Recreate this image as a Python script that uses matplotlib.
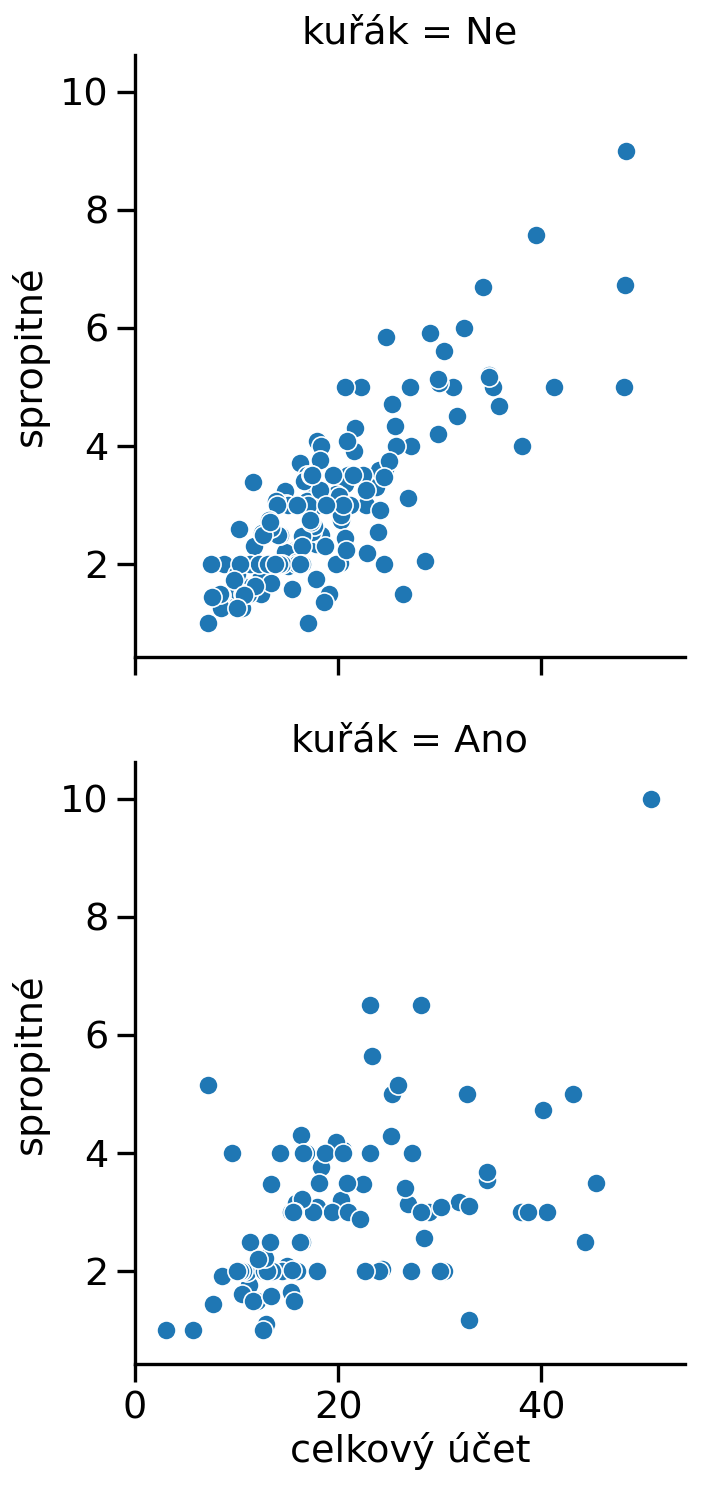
# Tips scatter, split by smoker (kuřák = Ne / Ano)
import matplotlib
matplotlib.use("Agg")
import matplotlib.pyplot as plt

# celkový účet / spropitné pro nekuřáky
bill_ne = [16.99, 10.34, 21.01, 23.68, 24.59, 25.29, 8.77, 26.88, 15.04, 14.78,
           10.27, 35.26, 15.42, 18.43, 14.83, 21.58, 10.33, 16.29, 16.97, 20.65,
           17.92, 20.29, 15.77, 39.42, 19.82, 17.81, 13.37, 12.69, 21.7, 19.65,
           9.55, 18.35, 15.06, 20.69, 17.78, 24.06, 16.31, 16.93, 18.69, 31.27,
           16.04, 17.46, 13.94, 9.68, 30.4, 18.29, 22.23, 32.4, 28.55, 18.04,
           12.54, 10.29, 34.81, 9.94, 25.56, 19.49, 26.41, 48.27, 17.59, 20.08,
           16.45, 20.23, 12.02, 17.07, 14.73, 10.51, 27.2, 22.76, 17.29, 16.66,
           10.07, 15.98, 34.83, 13.03, 18.28, 24.71, 21.16, 22.49, 22.75, 12.46,
           20.92, 18.24, 14.0, 7.25, 38.07, 23.95, 25.71, 17.31, 29.93, 10.65,
           12.43, 24.08, 11.69, 13.42, 14.26, 15.95, 12.48, 29.8, 8.52, 14.52,
           11.38, 22.82, 19.08, 20.27, 11.17, 12.26, 18.26, 8.51, 10.33, 14.15,
           13.16, 17.47, 34.3, 41.19, 27.05, 16.43, 8.35, 18.64, 11.87, 9.78,
           7.51, 14.07, 13.13, 17.26, 24.55, 19.77, 29.85, 48.17, 25.0, 13.39,
           16.49, 21.5, 12.66, 16.21, 13.81, 24.52, 20.76, 31.71, 20.69, 7.56,
           48.33, 15.98, 20.45, 13.28, 11.61, 10.77, 10.07, 35.83, 29.03, 17.82,
           18.78]
tip_ne = [1.01, 1.66, 3.5, 3.31, 3.61, 4.71, 2.0, 3.12, 1.96, 3.23,
          1.71, 5.0, 1.57, 3.0, 3.02, 3.92, 1.67, 3.71, 3.5, 3.35,
          4.08, 2.75, 2.23, 7.58, 3.18, 2.34, 2.0, 2.0, 4.3, 3.0,
          1.45, 2.5, 3.0, 2.45, 3.27, 3.6, 2.0, 3.07, 2.31, 5.0,
          2.24, 2.54, 3.06, 1.32, 5.6, 3.0, 5.0, 6.0, 2.05, 3.0,
          2.5, 2.6, 5.2, 1.56, 4.34, 3.51, 1.5, 6.73, 2.64, 3.15,
          2.47, 2.01, 1.97, 3.0, 2.2, 1.25, 4.0, 3.0, 2.71, 3.4,
          1.83, 2.03, 5.17, 2.0, 4.0, 5.85, 3.0, 3.5, 3.25, 1.5,
          4.08, 3.76, 3.0, 1.0, 4.0, 2.55, 4.0, 3.5, 5.07, 1.5,
          1.8, 2.92, 2.31, 1.68, 2.5, 2.0, 2.52, 4.2, 1.48, 2.0,
          2.0, 2.18, 1.5, 2.83, 1.5, 2.0, 3.25, 1.25, 2.0, 2.0,
          2.75, 3.5, 6.7, 5.0, 5.0, 2.3, 1.5, 1.36, 1.63, 1.73,
          2.0, 2.5, 2.0, 2.74, 2.0, 2.0, 5.14, 5.0, 3.75, 2.61,
          2.0, 3.5, 2.5, 2.0, 2.0, 3.48, 2.24, 4.5, 5.0, 1.44,
          9.0, 3.0, 3.0, 2.72, 3.39, 1.47, 1.25, 4.67, 5.92, 1.75,
          3.0]

# celkový účet / spropitné pro kuřáky
bill_ano = [38.01, 11.24, 20.29, 13.81, 11.02, 18.29, 3.07, 15.01, 26.86, 25.28,
            17.92, 19.44, 32.68, 28.97, 5.75, 16.32, 40.17, 27.28, 12.03, 21.01,
            11.35, 15.38, 44.3, 22.42, 15.36, 20.49, 25.21, 14.31, 16.0, 17.51,
            10.59, 10.63, 50.81, 15.81, 7.25, 31.85, 16.82, 32.9, 17.89, 14.48,
            9.6, 34.63, 34.65, 23.33, 45.35, 23.17, 40.55, 20.9, 30.46, 18.15,
            23.1, 15.69, 19.81, 28.44, 15.48, 16.58, 10.34, 43.11, 13.0, 13.51,
            18.71, 12.74, 13.0, 16.4, 20.53, 16.47, 26.59, 38.73, 24.27, 12.76,
            30.06, 25.89, 13.27, 28.17, 12.9, 28.15, 11.59, 7.74, 30.14, 12.16,
            13.42, 8.58, 13.42, 16.27, 10.09, 22.12, 24.01, 15.69, 15.53, 12.6,
            32.83, 27.18, 22.67]
tip_ano = [3.0, 1.76, 3.21, 2.0, 1.98, 3.76, 1.0, 2.09, 3.14, 5.0,
           3.08, 3.0, 5.0, 3.0, 1.0, 4.3, 4.73, 4.0, 1.5, 3.0,
           2.5, 3.0, 2.5, 3.48, 1.64, 4.06, 4.29, 4.0, 2.0, 3.0,
           1.61, 2.0, 10.0, 3.16, 5.15, 3.18, 4.0, 3.11, 2.0, 2.0,
           4.0, 3.55, 3.68, 5.65, 3.5, 6.5, 3.0, 3.5, 2.0, 3.5,
           4.0, 1.5, 4.19, 2.56, 2.02, 4.0, 2.0, 5.0, 2.0, 2.0,
           4.0, 2.01, 2.0, 2.5, 4.0, 3.23, 3.41, 3.0, 2.03, 2.23,
           2.0, 5.16, 2.5, 6.5, 1.1, 3.0, 1.5, 1.44, 3.09, 2.2,
           3.48, 1.92, 1.58, 2.5, 2.0, 2.88, 2.0, 3.0, 3.0, 1.0,
           1.17, 2.0, 2.0]

titles = ["kuřák = Ne", "kuřák = Ano"]
x_ticks = [0, 20, 40]
y_ticks = [2, 4, 6, 8, 10]

plt.rcParams["font.family"] = "DejaVu Sans"
fs = 27.5

fig, axes = plt.subplots(2, 1, figsize=(7.17, 14.88), dpi=100, sharex=True, sharey=True)
fig.subplots_adjust(left=0.188, right=0.955, top=0.963, bottom=0.083, hspace=0.174)

panels = [(bill_ne, tip_ne), (bill_ano, tip_ano)]
for ax, (bill, tip), title in zip(axes, panels, titles):
    ax.scatter(bill, tip, s=190, color="#1f77b4", edgecolor="white", linewidth=1.2, zorder=3)
    ax.set_title(title, fontsize=fs, pad=8)
    ax.set_ylabel("spropitné", fontsize=fs, labelpad=8)
    for side in ["top", "right"]:
        ax.spines[side].set_visible(False)
    for side in ["left", "bottom"]:
        ax.spines[side].set_linewidth(2.4)
    ax.tick_params(length=13, width=2.4, labelsize=fs, pad=6)

axes[0].set_xlim(0, 54.1)
axes[0].set_ylim(0.42, 10.62)
axes[0].set_xticks(x_ticks)
axes[0].set_yticks(y_ticks)
axes[1].set_xlabel("celkový účet", fontsize=fs, labelpad=4)

fig.savefig("out.png", dpi=100)
